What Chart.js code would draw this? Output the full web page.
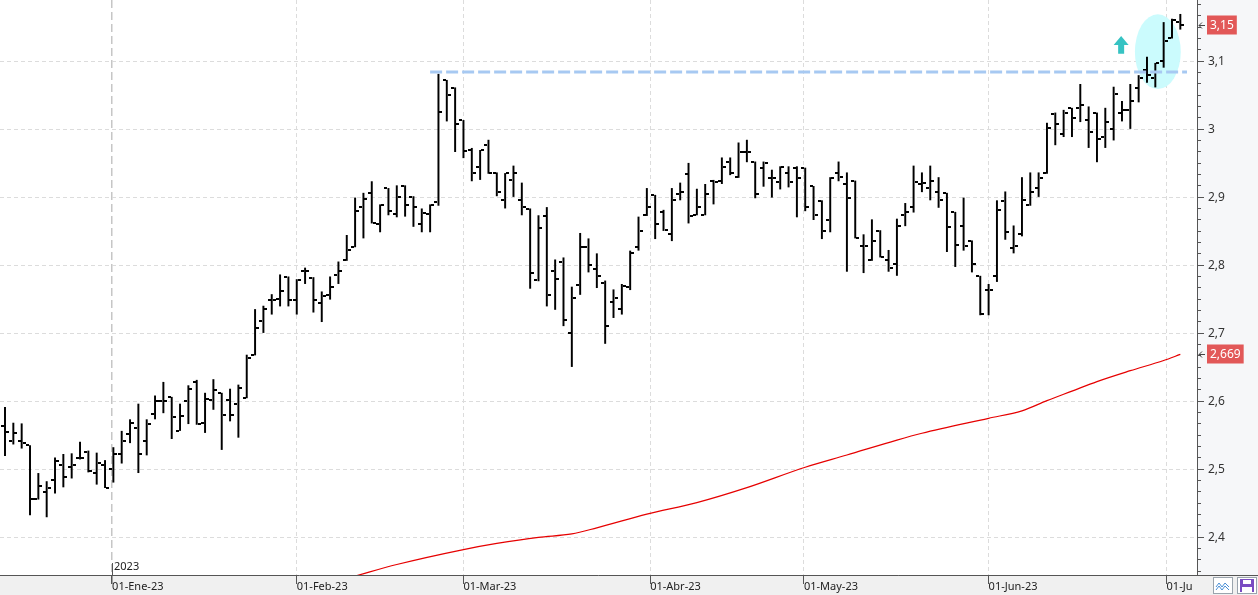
<!DOCTYPE html>
<html>
<head>
<meta charset="utf-8">
<title>Cotización diaria</title>
<script src="https://cdn.jsdelivr.net/npm/chart.js@4.4.1/dist/chart.umd.min.js"></script>
<style>
  html, body { margin: 0; padding: 0; background: #fff; overflow: hidden; }
  canvas { display: block; }
</style>
</head>
<body>
<canvas id="chart" width="1258" height="595"></canvas>
<script>
/* ------------------------------------------
   DATA — daily OHLC
   index 0 = mid Dec-22, index 141 = 04-Jul-23
   ------------------------------------------ */
var openPrices = [
  2.563, 2.541, 2.541, 2.535, 2.456, 2.466, 2.484, 2.507, 2.503, 2.517,
  2.526, 2.494, 2.507, 2.500, 2.523, 2.552, 2.560, 2.541, 2.582, 2.600,
  2.606, 2.557, 2.600, 2.628, 2.568, 2.602, 2.612, 2.602, 2.596, 2.605,
  2.668, 2.718, 2.749, 2.750, 2.783, 2.749, 2.792, 2.782, 2.744, 2.757,
  2.786, 2.807, 2.827, 2.885, 2.906, 2.861, 2.913, 2.875, 2.917, 2.901,
  2.861, 2.875, 2.893, 3.072, 3.060, 3.013, 2.970, 2.945, 2.977, 2.936,
  2.896, 2.925, 2.896, 2.883, 2.778, 2.873, 2.792, 2.805, 2.700, 2.771,
  2.827, 2.795, 2.774, 2.746, 2.735, 2.768, 2.827, 2.874, 2.903, 2.879,
  2.846, 2.905, 2.934, 2.874, 2.874, 2.924, 2.924, 2.952, 2.930, 2.967,
  2.952, 2.943, 2.929, 2.923, 2.936, 2.943, 2.943, 2.916, 2.895, 2.867,
  2.935, 2.919, 2.924, 2.829, 2.807, 2.850, 2.807, 2.802, 2.874, 2.885,
  2.919, 2.913, 2.908, 2.906, 2.878, 2.857, 2.835, 2.784, 2.763, 2.784,
  2.894, 2.826, 2.846, 2.888, 2.913, 2.935, 3.022, 2.993, 3.031, 3.031,
  3.013, 3.024, 2.988, 3.001, 3.024, 3.028, 3.060, 3.087, 3.075, 3.101,
  3.134, 3.158
];
var highPrices = [
  2.591, 2.568, 2.567, 2.535, 2.494, 2.482, 2.517, 2.522, 2.523, 2.540,
  2.527, 2.524, 2.513, 2.532, 2.556, 2.573, 2.596, 2.573, 2.608, 2.628,
  2.606, 2.596, 2.623, 2.631, 2.612, 2.632, 2.612, 2.618, 2.624, 2.668,
  2.735, 2.740, 2.757, 2.786, 2.783, 2.779, 2.796, 2.782, 2.761, 2.783,
  2.805, 2.844, 2.899, 2.906, 2.923, 2.889, 2.913, 2.917, 2.917, 2.901,
  2.883, 2.889, 3.081, 3.072, 3.061, 3.013, 2.972, 2.969, 2.984, 2.936,
  2.935, 2.946, 2.921, 2.883, 2.873, 2.885, 2.808, 2.811, 2.768, 2.847,
  2.839, 2.817, 2.777, 2.764, 2.772, 2.821, 2.871, 2.913, 2.903, 2.881,
  2.913, 2.921, 2.950, 2.912, 2.919, 2.925, 2.958, 2.958, 2.980, 2.984,
  2.952, 2.952, 2.940, 2.945, 2.945, 2.945, 2.943, 2.916, 2.895, 2.929,
  2.952, 2.936, 2.924, 2.845, 2.867, 2.851, 2.822, 2.868, 2.891, 2.946,
  2.936, 2.946, 2.929, 2.906, 2.878, 2.899, 2.836, 2.784, 2.772, 2.895,
  2.908, 2.858, 2.929, 2.936, 2.936, 3.009, 3.024, 3.028, 3.031, 3.066,
  3.033, 3.024, 3.031, 3.062, 3.041, 3.066, 3.079, 3.106, 3.097, 3.157,
  3.162, 3.169
];
var lowPrices = [
  2.520, 2.537, 2.531, 2.433, 2.456, 2.430, 2.465, 2.474, 2.487, 2.515,
  2.496, 2.478, 2.473, 2.481, 2.509, 2.539, 2.495, 2.521, 2.574, 2.583,
  2.545, 2.557, 2.567, 2.566, 2.554, 2.588, 2.529, 2.571, 2.547, 2.605,
  2.668, 2.701, 2.728, 2.740, 2.740, 2.728, 2.773, 2.731, 2.717, 2.750,
  2.773, 2.807, 2.827, 2.840, 2.862, 2.849, 2.874, 2.871, 2.872, 2.857,
  2.849, 2.849, 2.888, 3.012, 2.967, 2.958, 2.924, 2.926, 2.935, 2.902,
  2.884, 2.901, 2.874, 2.766, 2.777, 2.740, 2.735, 2.711, 2.651, 2.757,
  2.790, 2.767, 2.685, 2.723, 2.728, 2.764, 2.822, 2.873, 2.839, 2.851,
  2.836, 2.896, 2.862, 2.874, 2.874, 2.890, 2.920, 2.933, 2.929, 2.952,
  2.899, 2.916, 2.900, 2.912, 2.915, 2.871, 2.880, 2.867, 2.839, 2.849,
  2.924, 2.791, 2.840, 2.789, 2.807, 2.812, 2.791, 2.785, 2.858, 2.878,
  2.908, 2.896, 2.885, 2.820, 2.798, 2.822, 2.790, 2.727, 2.727, 2.776,
  2.838, 2.818, 2.843, 2.888, 2.901, 2.935, 2.977, 2.989, 2.989, 3.011,
  2.973, 2.952, 2.973, 2.984, 3.012, 3.001, 3.040, 3.069, 3.062, 3.091,
  3.134, 3.147
];
var closePrices = [
  2.555, 2.554, 2.538, 2.457, 2.475, 2.472, 2.512, 2.488, 2.506, 2.517,
  2.498, 2.510, 2.473, 2.523, 2.541, 2.568, 2.523, 2.567, 2.601, 2.600,
  2.577, 2.578, 2.618, 2.567, 2.604, 2.617, 2.580, 2.580, 2.619, 2.664,
  2.708, 2.736, 2.749, 2.762, 2.749, 2.779, 2.791, 2.749, 2.755, 2.768,
  2.792, 2.822, 2.880, 2.897, 2.862, 2.889, 2.880, 2.901, 2.889, 2.885,
  2.877, 2.889, 3.025, 3.050, 3.007, 2.968, 2.936, 2.969, 2.936, 2.908,
  2.935, 2.935, 2.885, 2.789, 2.855, 2.756, 2.780, 2.719, 2.752, 2.827,
  2.800, 2.784, 2.710, 2.752, 2.770, 2.818, 2.851, 2.885, 2.861, 2.852,
  2.896, 2.908, 2.873, 2.886, 2.905, 2.922, 2.945, 2.935, 2.967, 2.966,
  2.905, 2.951, 2.929, 2.945, 2.923, 2.928, 2.886, 2.874, 2.851, 2.929,
  2.930, 2.899, 2.840, 2.828, 2.836, 2.812, 2.796, 2.858, 2.879, 2.923,
  2.921, 2.924, 2.896, 2.856, 2.830, 2.829, 2.802, 2.728, 2.764, 2.881,
  2.849, 2.829, 2.896, 2.908, 2.928, 3.002, 3.008, 3.024, 3.016, 3.035,
  2.996, 2.985, 3.011, 3.052, 3.029, 3.041, 3.075, 3.079, 3.097, 3.129,
  3.161, 3.153
];

// 200-session moving average (red), read at a few sessions
var maSessions = [42, 47, 55, 59, 64, 68, 71, 77, 83, 89, 96, 101, 107, 110, 118, 122, 125, 128, 131, 135, 139, 141];
var maValues   = [2.343, 2.360, 2.382, 2.391, 2.400, 2.405, 2.414, 2.434, 2.451, 2.473, 2.503, 2.521, 2.543, 2.553, 2.575, 2.586, 2.601, 2.615, 2.629, 2.645, 2.660, 2.669];

// month marks on the session axis (01-Ene falls between sessions 12 and 13, etc.)
var monthSessions = [12.85, 35, 55, 77.4, 95.85, 118, 139.35];
var monthLabels   = ['01-Ene-23', '01-Feb-23', '01-Mar-23', '01-Abr-23', '01-May-23', '01-Jun-23', '01-Jul-23'];

// resistance line drawn by hand on the chart
var resistanceSessions = [51, 141.8];
var resistanceLevel = 3.084;

/* ------------------------------------------
   AXIS RANGE
   ------------------------------------------ */
var X_MIN = -0.6, X_MAX = 143.0;
var Y_MIN = 2.3446, Y_MAX = 3.190;
var FONT = "'Noto Sans', 'DejaVu Sans', sans-serif";

function isMajor(v) { return Math.round(v * 60) % 6 === 0; }
function comma(v, digits) {
  var s = digits === undefined ? String(Math.round(v * 10) / 10) : v.toFixed(digits);
  return s.replace('.', ',');
}

// open / close ticks as tiny images: left stub for open, right stub for close
function stub(side) {
  var c = document.createElement('canvas');
  c.width = 8; c.height = 2;
  var g = c.getContext('2d');
  g.fillStyle = '#000';
  g.fillRect(side === 'left' ? 0 : 5, 0, 3, 2);
  return c;
}

var sessions = openPrices.map(function (_, i) { return i; });

/* ------------------------------------------
   PLUGIN — backgrounds, ellipse, arrow, tags
   ------------------------------------------ */
var decor = {
  id: 'decor',
  beforeDraw: function (chart) {
    var ctx = chart.ctx, a = chart.chartArea;
    ctx.save();
    ctx.fillStyle = '#f0f0f0';
    ctx.fillRect(0, a.bottom, chart.width, chart.height - a.bottom);
    ctx.fillStyle = '#f6f7f9';
    ctx.fillRect(a.right, 0, chart.width - a.right, a.bottom);
    ctx.fillStyle = '#ffffff';
    ctx.fillRect(a.left, a.top, a.right - a.left, a.bottom - a.top);
    ctx.restore();
  },
  beforeDatasetsDraw: function (chart) {
    var ctx = chart.ctx, x = chart.scales.x, y = chart.scales.y;
    ctx.save();
    // highlight ellipse round the breakout
    var cx = x.getPixelForValue(138.3), cy = y.getPixelForValue(3.114);
    var rx = x.getPixelForValue(141.05) - cx, ry = cy - y.getPixelForValue(3.169);
    ctx.fillStyle = '#cbfbfd';
    ctx.beginPath();
    ctx.ellipse(cx, cy, rx, ry, 0, 0, Math.PI * 2);
    ctx.fill();
    // up arrow
    var ax = x.getPixelForValue(133.9), top = y.getPixelForValue(3.137), bot = y.getPixelForValue(3.111);
    ctx.fillStyle = '#36c3c3';
    ctx.beginPath();
    ctx.moveTo(ax, top);
    ctx.lineTo(ax + 7.5, top + 9);
    ctx.lineTo(ax + 3, top + 9);
    ctx.lineTo(ax + 3, bot);
    ctx.lineTo(ax - 3, bot);
    ctx.lineTo(ax - 3, top + 9);
    ctx.lineTo(ax - 7.5, top + 9);
    ctx.closePath();
    ctx.fill();
    ctx.restore();
    ctx.imageSmoothingEnabled = false;
  },
  afterDraw: function (chart) {
    var ctx = chart.ctx, a = chart.chartArea, x = chart.scales.x, y = chart.scales.y;
    ctx.save();
    // bottom-right corner hides the clipped July label
    ctx.fillStyle = '#f0f0f0';
    ctx.fillRect(a.right - 4, a.bottom + 1, chart.width - a.right + 4, chart.height - a.bottom);
    ctx.strokeStyle = '#555';
    ctx.lineWidth = 1;
    ctx.beginPath();
    ctx.moveTo(a.right, a.bottom + 0.5);
    ctx.lineTo(chart.width, a.bottom + 0.5);
    ctx.stroke();

    // year mark
    var jx = Math.round(x.getPixelForValue(monthSessions[0])) + 0.5;
    ctx.beginPath();
    ctx.moveTo(jx, a.bottom - 12);
    ctx.lineTo(jx, a.bottom);
    ctx.stroke();
    ctx.fillStyle = '#222';
    ctx.font = '11px ' + FONT;
    ctx.textBaseline = 'middle';
    ctx.fillText('2023', jx + 1.5, a.bottom - 8);

    // price tags
    function tag(value, text) {
      var py = Math.round(y.getPixelForValue(value));
      ctx.font = '12px ' + FONT;
      var w = ctx.measureText(text).width + 6;
      ctx.fillStyle = '#e25858';
      ctx.fillRect(a.right + 10, py - 9.5, w, 19);
      ctx.fillStyle = '#fff';
      ctx.textBaseline = 'middle';
      ctx.fillText(text, a.right + 13, py + 0.5);
      ctx.strokeStyle = '#444';
      ctx.beginPath();
      ctx.moveTo(a.right + 2, py + 0.5);
      ctx.lineTo(a.right + 8, py + 0.5);
      ctx.moveTo(a.right + 5, py - 2.5);
      ctx.lineTo(a.right + 2, py + 0.5);
      ctx.lineTo(a.right + 5, py + 3.5);
      ctx.stroke();
    }
    tag(closePrices[closePrices.length - 1], comma(closePrices[closePrices.length - 1], 2));
    tag(maValues[maValues.length - 1], comma(maValues[maValues.length - 1], 3));

    // two toolbar buttons
    ctx.fillStyle = '#fff';
    ctx.strokeStyle = '#9aa4ad';
    ctx.fillRect(1213.5, 577.5, 19, 16);
    ctx.strokeRect(1213.5, 577.5, 19, 16);
    ctx.strokeStyle = '#4a8fd6';
    ctx.beginPath();
    ctx.moveTo(1216, 587); ctx.lineTo(1219, 583); ctx.lineTo(1222, 587); ctx.lineTo(1225, 583); ctx.lineTo(1229, 587);
    ctx.moveTo(1216, 590); ctx.lineTo(1219, 586); ctx.lineTo(1222, 590); ctx.lineTo(1225, 586); ctx.lineTo(1229, 590);
    ctx.stroke();
    ctx.fillStyle = '#fff';
    ctx.strokeStyle = '#9aa4ad';
    ctx.fillRect(1237.5, 577.5, 19, 16);
    ctx.strokeRect(1237.5, 577.5, 19, 16);
    ctx.fillStyle = '#7a4cc2';
    ctx.fillRect(1240, 579, 14, 13);
    ctx.fillStyle = '#fff';
    ctx.fillRect(1243, 580, 8, 4);
    ctx.fillRect(1242, 587, 10, 5);
    ctx.restore();
  }
};

/* ------------------------------------------
   CHART
   ------------------------------------------ */
new Chart(document.getElementById('chart').getContext('2d'), {
  type: 'scatter',
  data: {
    datasets: [
      {
        type: 'line',
        data: resistanceSessions.map(function (s) { return { x: s, y: resistanceLevel }; }),
        borderColor: '#a7c9f2',
        borderWidth: 3,
        borderDash: [12, 4],
        pointRadius: 0,
        order: 0
      },
      {
        type: 'line',
        data: maSessions.map(function (s, i) { return { x: s, y: maValues[i] }; }),
        borderColor: '#e60000',
        borderWidth: 1.2,
        pointRadius: 0,
        cubicInterpolationMode: 'monotone',
        order: 1
      },
      {
        data: sessions.map(function (i) { return { x: i, y: openPrices[i] }; }),
        pointStyle: stub('left'),
        order: 2
      },
      {
        data: sessions.map(function (i) { return { x: i, y: closePrices[i] }; }),
        pointStyle: stub('right'),
        order: 2
      },
      {
        type: 'bar',
        data: sessions.map(function (i) { return { x: i, y: [lowPrices[i], highPrices[i]] }; }),
        backgroundColor: '#000',
        borderWidth: 0,
        barThickness: 1.3,
        grouped: false,
        order: 3
      }
    ]
  },
  options: {
    responsive: false,
    animation: false,
    events: [],
    layout: { padding: 0, autoPadding: false },
    plugins: { legend: { display: false }, tooltip: { enabled: false } },
    scales: {
      x: {
        type: 'linear',
        min: X_MIN,
        max: X_MAX,
        offset: false,
        afterBuildTicks: function (s) {
          s.ticks = monthSessions.map(function (v) { return { value: v }; });
        },
        afterFit: function (s) { s.height = 20; s.paddingLeft = 0; s.paddingRight = 0; },
        ticks: {
          autoSkip: false,
          maxRotation: 0,
          align: 'start',
          padding: -4,
          color: '#222',
          font: { family: FONT, size: 11 },
          callback: function (v, i) { return monthLabels[i]; }
        },
        grid: {
          offset: false,
          color: function (c) { return c.index === 0 ? '#c6c6c6' : '#dcdcdc'; },
          lineWidth: function (c) { return c.index === 0 ? 1.5 : 1; },
          tickLength: 9,
          tickColor: '#555'
        },
        border: {
          color: '#555',
          dash: function (c) { return c.tick ? (c.index === 0 ? [8, 4] : [4, 3]) : []; }
        }
      },
      y: {
        type: 'linear',
        position: 'right',
        min: Y_MIN,
        max: Y_MAX,
        afterBuildTicks: function (s) {
          var t = [];
          for (var k = Math.ceil(Y_MIN * 60); k <= Math.floor(Y_MAX * 60); k++) t.push({ value: k / 60 });
          s.ticks = t;
        },
        afterFit: function (s) { s.width = 61; s.paddingTop = 0; s.paddingBottom = 0; },
        ticks: {
          autoSkip: false,
          padding: 4,
          color: '#333',
          font: { family: FONT, size: 12 },
          callback: function (v) { return isMajor(v) ? comma(v) : ''; }
        },
        grid: {
          color: function (c) { return c.tick && isMajor(c.tick.value) ? '#dcdcdc' : 'rgba(0,0,0,0)'; },
          tickLength: 7,
          tickColor: '#555',
          tickBorderDash: function (c) { return c.tick && isMajor(c.tick.value) ? [] : [3, 20]; }
        },
        border: {
          color: '#555',
          dash: function (c) { return c.tick ? [4, 3] : []; }
        }
      }
    }
  },
  plugins: [decor]
});
</script>
</body>
</html>
